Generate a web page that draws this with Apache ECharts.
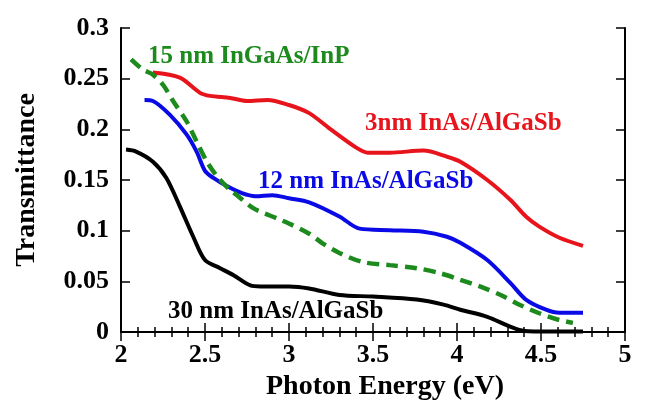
<!DOCTYPE html>
<html>
<head>
<meta charset="utf-8">
<script src="https://cdn.jsdelivr.net/npm/echarts@6/dist/echarts.min.js"></script>
<style>
  html, body { margin: 0; padding: 0; background: #fff; }
  #chart { width: 646px; height: 401px; }
</style>
</head>
<body>
<div id="chart"></div>
<script>
// photon energy (eV) / transmittance
const xTicks = [2, 2.5, 3, 3.5, 4, 4.5, 5]
const yTicks = [0, 0.05, 0.1, 0.15, 0.2, 0.25, 0.3]

const energy3nm = [2.19, 2.35, 2.47, 2.53, 2.65, 2.75, 2.87, 3.0, 3.12, 3.24, 3.40, 3.47, 3.60, 3.80, 3.94, 4.02, 4.18, 4.32, 4.41, 4.49, 4.61, 4.75]
const trans3nm = [0.256, 0.251, 0.236, 0.233, 0.231, 0.228, 0.229, 0.224, 0.216, 0.201, 0.182, 0.177, 0.177, 0.179, 0.173, 0.168, 0.150, 0.130, 0.114, 0.104, 0.093, 0.085]

const energy12nm = [2.14, 2.19, 2.29, 2.39, 2.45, 2.50, 2.55, 2.63, 2.72, 2.80, 2.90, 3.0, 3.12, 3.30, 3.42, 3.60, 3.80, 3.94, 4.02, 4.18, 4.32, 4.41, 4.53, 4.61, 4.75]
const trans12nm = [0.229, 0.228, 0.2145, 0.195, 0.178, 0.159, 0.152, 0.144, 0.137, 0.134, 0.135, 0.132, 0.128, 0.114, 0.102, 0.1005, 0.099, 0.094, 0.088, 0.071, 0.048, 0.032, 0.022, 0.019, 0.019]

const energy30nm = [2.03, 2.09, 2.19, 2.27, 2.35, 2.43, 2.50, 2.59, 2.67, 2.77, 2.83, 3.0, 3.12, 3.30, 3.50, 3.76, 3.92, 4.02, 4.18, 4.32, 4.40, 4.55, 4.75]
const trans30nm = [0.180, 0.178, 0.168, 0.152, 0.124, 0.094, 0.071, 0.063, 0.056, 0.046, 0.045, 0.045, 0.043, 0.0365, 0.035, 0.032, 0.027, 0.022, 0.015, 0.005, 0.001, 0.0005, 0.0005]

const energyInP = [2.06, 2.13, 2.19, 2.25, 2.31, 2.39, 2.45, 2.51, 2.57, 2.65, 2.69, 2.79, 2.93, 3.0, 3.12, 3.20, 3.30, 3.44, 3.60, 3.76, 3.90, 4.02, 4.14, 4.26, 4.375, 4.49, 4.61, 4.69]
const transInP = [0.269, 0.259, 0.254, 0.244, 0.228, 0.208, 0.188, 0.1685, 0.154, 0.140, 0.135, 0.122, 0.112, 0.107, 0.097, 0.0875, 0.078, 0.069, 0.066, 0.063, 0.058, 0.0515, 0.0447, 0.0365, 0.0267, 0.0185, 0.0118, 0.009]

const pairs = (xs, ys) => xs.map((x, i) => [x, ys[i]])

const font = '"Liberation Serif", "Times New Roman", serif'

const chart = echarts.init(document.getElementById('chart'))

const axisCommon = {
  type: 'value',
  axisLine: { show: true, lineStyle: { color: '#000', width: 2 } },
  splitLine: { show: false }
}

chart.setOption({
  animation: false,
  grid: { left: 121, right: 21, top: 28, bottom: 69 },
  xAxis: [{
    ...axisCommon,
    min: xTicks[0],
    max: xTicks[xTicks.length - 1],
    interval: 0.5,
    position: 'bottom',
    axisTick: { inside: true, length: 9, lineStyle: { color: '#000', width: 1.5 } },
    minorTick: { show: true, splitNumber: 5, length: 5, lineStyle: { color: '#000', width: 1.5 } },
    axisLabel: {
      margin: 10,
      fontFamily: font, fontWeight: 'bold', fontSize: 26, color: '#000',
      formatter: v => String(v)
    }
  }, {
    ...axisCommon,
    min: xTicks[0],
    max: xTicks[xTicks.length - 1],
    interval: 0.5,
    position: 'top',
    axisTick: { inside: true, length: 9, lineStyle: { color: '#000', width: 1.5 } },
    minorTick: { show: true, splitNumber: 5, length: 5, lineStyle: { color: '#000', width: 1.5 } },
    axisLabel: { show: false }
  }],
  yAxis: [{
    ...axisCommon,
    min: yTicks[0],
    max: yTicks[yTicks.length - 1],
    interval: 0.05,
    position: 'left',
    axisTick: { inside: true, length: 9, lineStyle: { color: '#000', width: 1.5 } },
    axisLabel: {
      margin: 12,
      fontFamily: font, fontWeight: 'bold', fontSize: 26, color: '#000',
      formatter: v => String(v)
    }
  }, {
    ...axisCommon,
    min: yTicks[0],
    max: yTicks[yTicks.length - 1],
    interval: 0.05,
    position: 'right',
    axisTick: { inside: true, length: 9, lineStyle: { color: '#000', width: 1.5 } },
    axisLabel: { show: false }
  }],
  series: [{
    name: '3nm InAs/AlGaSb',
    type: 'line',
    smooth: 0.3,
    showSymbol: false,
    lineStyle: { color: '#e8141c', width: 4 },
    data: pairs(energy3nm, trans3nm)
  }, {
    name: '12 nm InAs/AlGaSb',
    type: 'line',
    smooth: 0.3,
    showSymbol: false,
    lineStyle: { color: '#0a0ae6', width: 4 },
    data: pairs(energy12nm, trans12nm)
  }, {
    name: '15 nm InGaAs/InP',
    type: 'line',
    smooth: 0.3,
    showSymbol: false,
    lineStyle: { color: '#1c8a1c', width: 4.5, type: [12, 7] },
    data: pairs(energyInP, transInP)
  }, {
    name: '30 nm InAs/AlGaSb',
    type: 'line',
    smooth: 0.3,
    showSymbol: false,
    lineStyle: { color: '#000', width: 4 },
    data: pairs(energy30nm, trans30nm)
  }],
  graphic: [{
    type: 'text', left: 148, top: 44,
    style: { text: '15 nm InGaAs/InP', font: 'bold 25px ' + font, fill: '#1c8a1c' }
  }, {
    type: 'text', left: 365, top: 111,
    style: { text: '3nm InAs/AlGaSb', font: 'bold 25px ' + font, fill: '#e8141c' }
  }, {
    type: 'text', left: 258, top: 169,
    style: { text: '12 nm InAs/AlGaSb', font: 'bold 25px ' + font, fill: '#0a0ae6' }
  }, {
    type: 'text', left: 168, top: 299,
    style: { text: '30 nm InAs/AlGaSb', font: 'bold 25px ' + font, fill: '#000' }
  }, {
    type: 'text', x: 385, y: 387,
    style: { text: 'Photon Energy (eV)', font: 'bold 28px ' + font, fill: '#000', align: 'center', verticalAlign: 'middle' }
  }, {
    type: 'text', x: 27, y: 180, rotation: Math.PI / 2,
    style: { text: 'Transmittance', font: 'bold 28px ' + font, fill: '#000', align: 'center', verticalAlign: 'middle' }
  }]
})
</script>
</body>
</html>
